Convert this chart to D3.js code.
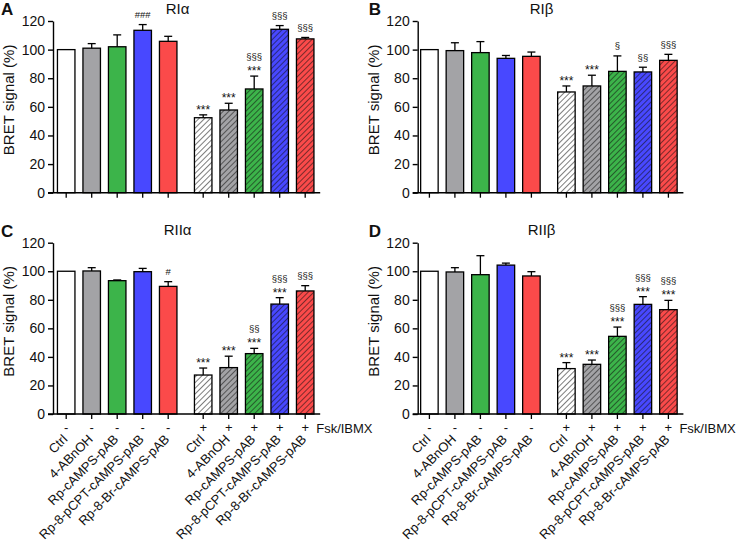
<!DOCTYPE html>
<html><head><meta charset="utf-8">
<script src="https://cdn.jsdelivr.net/npm/d3@7"></script>
<style>
html,body{margin:0;padding:0;background:#fff;}
svg text{font-family:"Liberation Sans",Arial,sans-serif;fill:#111;}
</style></head>
<body><svg id="c" width="740" height="551"></svg>
<script>
// ---------- data ----------
const categories = ["Ctrl","4-ABnOH","Rp-cAMPS-pAB","Rp-8-pCPT-cAMPS-pAB","Rp-8-Br-cAMPS-pAB",
                    "Ctrl","4-ABnOH","Rp-cAMPS-pAB","Rp-8-pCPT-cAMPS-pAB","Rp-8-Br-cAMPS-pAB"];
const treatment = ["-","-","-","-","-","+","+","+","+","+"];
const treatmentLabel = "Fsk/IBMX";
const panelLetters = ["A","B","C","D"];
const panelTitles = ["RI\u03b1","RI\u03b2","RII\u03b1","RII\u03b2"];
const yTicks = [0,20,40,60,80,100,120];
const yLabel = "BRET signal (%)";

const meanRIa  = [100,101,102,113.5,105.8, 52.4,57.8,72.5,114.2,107.5];
const errRIa   = [0,3.2,8.3,4,3.5, 2,4.7,9,2.6,1];
const sigRIa   = [[],[],[],["###"],[], ["***"],["***"],["§§§","***"],["§§§"],["§§§"]];

const meanRIb  = [100,99.3,97.9,93.9,95.3, 70.4,74.6,84.8,84.4,92.5];
const errRIb   = [0,5.5,7.7,2,3, 4.2,7.5,10.8,3.3,4.2];
const sigRIb   = [[],[],[],[],[], ["***"],["***"],["§"],["§§"],["§§§"]];

const meanRIIa = [100,100.2,93.4,99.7,89.4, 27.3,32.5,42.3,77,86.2];
const errRIIa  = [0,2.3,0.5,2.3,3.3, 4.9,8,3.7,4.5,3.7];
const sigRIIa  = [[],[],[],[],["#"], ["***"],["***"],["§§","***"],["§§§","***"],["§§§"]];

const meanRIIb = [100,99.5,97.6,104.3,96.7, 31.8,34.8,54.4,76.8,73.1];
const errRIIb  = [0,3,13.3,1.4,3, 4.2,3,6.5,5.4,6.5];
const sigRIIb  = [[],[],[],[],[], ["***"],["***"],["§§§","***"],["§§§","***"],["§§§","***"]];

const barColors = ["#ffffff","#a3a3a6","#3cb44a","#4848ff","#fb4a4a"];

// ---------- layout ----------
const svg = d3.select("#c");
const panelData = [
  {mean:meanRIa, err:errRIa, sig:sigRIa},
  {mean:meanRIb, err:errRIb, sig:sigRIb},
  {mean:meanRIIa, err:errRIIa, sig:sigRIIa},
  {mean:meanRIIb, err:errRIIb, sig:sigRIIb}
];
const colAxisX = [53, 417.7];
const colX0 = [66.2, 429.4];
const rowTop = [21, 242.7];
const rowBot = [192.7, 414];
const step = 25.5, gapFrac = 0.3725, barW = 17.5;

// hatch patterns
const defs = svg.append("defs");
barColors.forEach((c,k)=>{
  const p = defs.append("pattern").attr("id","h"+k).attr("patternUnits","userSpaceOnUse")
    .attr("width",4).attr("height",4).attr("patternTransform","rotate(45)");
  p.append("rect").attr("width",4).attr("height",4).attr("fill",c);
  p.append("line").attr("x1",0).attr("y1",0).attr("x2",0).attr("y2",4)
    .attr("stroke","#111").attr("stroke-width",1.1);
});

panelData.forEach((pd,pi)=>{
  const col = pi%2, row = Math.floor(pi/2);
  const g = svg.append("g");
  const y = d3.scaleLinear().domain([0,120]).range([rowBot[row],rowTop[row]]);
  const xs = d3.scaleLinear().domain([0,1]).range([colX0[col], colX0[col]+step]);
  const slot = i => i + (i>=5 ? gapFrac : 0);
  const cx = i => xs(slot(i));
  const axisX = colAxisX[col];
  const xEnd = cx(9)+15;

  // bars
  pd.mean.forEach((m,i)=>{
    const fill = i<5 ? barColors[i] : `url(#h${i-5})`;
    g.append("rect").attr("x",cx(i)-barW/2).attr("y",y(m))
      .attr("width",barW).attr("height",y(0)-y(m))
      .attr("fill",fill).attr("stroke","#000").attr("stroke-width",1.3);
    const e = pd.err[i];
    if(e>0){
      g.append("line").attr("x1",cx(i)).attr("x2",cx(i)).attr("y1",y(m)).attr("y2",y(m+e))
        .attr("stroke","#000").attr("stroke-width",1.3);
      g.append("line").attr("x1",cx(i)-4).attr("x2",cx(i)+4).attr("y1",y(m+e)).attr("y2",y(m+e))
        .attr("stroke","#000").attr("stroke-width",1.3);
    }
    // annotations (listed top to bottom)
    const lines = pd.sig[i];
    let base = y(m+e);
    let b = null;
    for(let k=lines.length-1;k>=0;k--){
      const t = lines[k];
      const isStar = t.startsWith("*");
      if(b===null) b = base - (isStar ? 1 : 6.5);
      else b -= 15;
      g.append("text").attr("x",cx(i)).attr("y",b).attr("text-anchor","middle")
        .attr("font-size", isStar ? 12 : 9.5).attr("fill","#333").text(t);
    }
  });

  // y axis
  const ya = g.append("g").attr("transform",`translate(${axisX},0)`)
    .call(d3.axisLeft(y).tickValues(yTicks).tickSize(5).tickSizeOuter(0).tickPadding(3));
  ya.selectAll("path,line").attr("stroke","#000").attr("stroke-width",1.4);
  ya.selectAll("text").attr("font-size",14).attr("fill","#111")
    .style("font-family","'Liberation Sans',Arial,sans-serif");

  // x axis line + ticks
  g.append("line").attr("x1",axisX-5).attr("x2",xEnd).attr("y1",y(0)).attr("y2",y(0))
    .attr("stroke","#000").attr("stroke-width",1.4);
  d3.range(10).forEach(i=>{
    g.append("line").attr("x1",cx(i)).attr("x2",cx(i)).attr("y1",y(0)).attr("y2",y(0)+5)
      .attr("stroke","#000").attr("stroke-width",1.3);
    if(row===1){
      g.append("text").attr("x",cx(i)).attr("y",y(0)+18).attr("text-anchor","middle")
        .attr("font-size",13).attr("fill", treatment[i]==="-" ? "#555" : "#111").text(treatment[i]);
      g.append("text").attr("text-anchor","end").attr("font-size",13)
        .attr("transform",`translate(${cx(i)+2},${y(0)+26}) rotate(-45)`).text(categories[i]);
    }
  });
  if(row===1)
    g.append("text").attr("x",cx(9)+11).attr("y",y(0)+19).attr("font-size",13).text(treatmentLabel);

  // y label
  g.append("text").attr("text-anchor","middle").attr("font-size",15)
    .attr("transform",`translate(${axisX-39},${(rowTop[row]+rowBot[row])/2-7}) rotate(-90)`).text(yLabel);

  // title
  g.append("text").attr("x",(axisX+xEnd)/2-9).attr("y",rowTop[row]-7.5).attr("text-anchor","middle")
    .attr("font-size",15).text(panelTitles[pi]);
  // panel letter
  g.append("text").attr("x",axisX-52 + col*3).attr("y",rowTop[row]-6).attr("font-size",17)
    .attr("font-weight","bold").text(panelLetters[pi]);
});
</script></body></html>
